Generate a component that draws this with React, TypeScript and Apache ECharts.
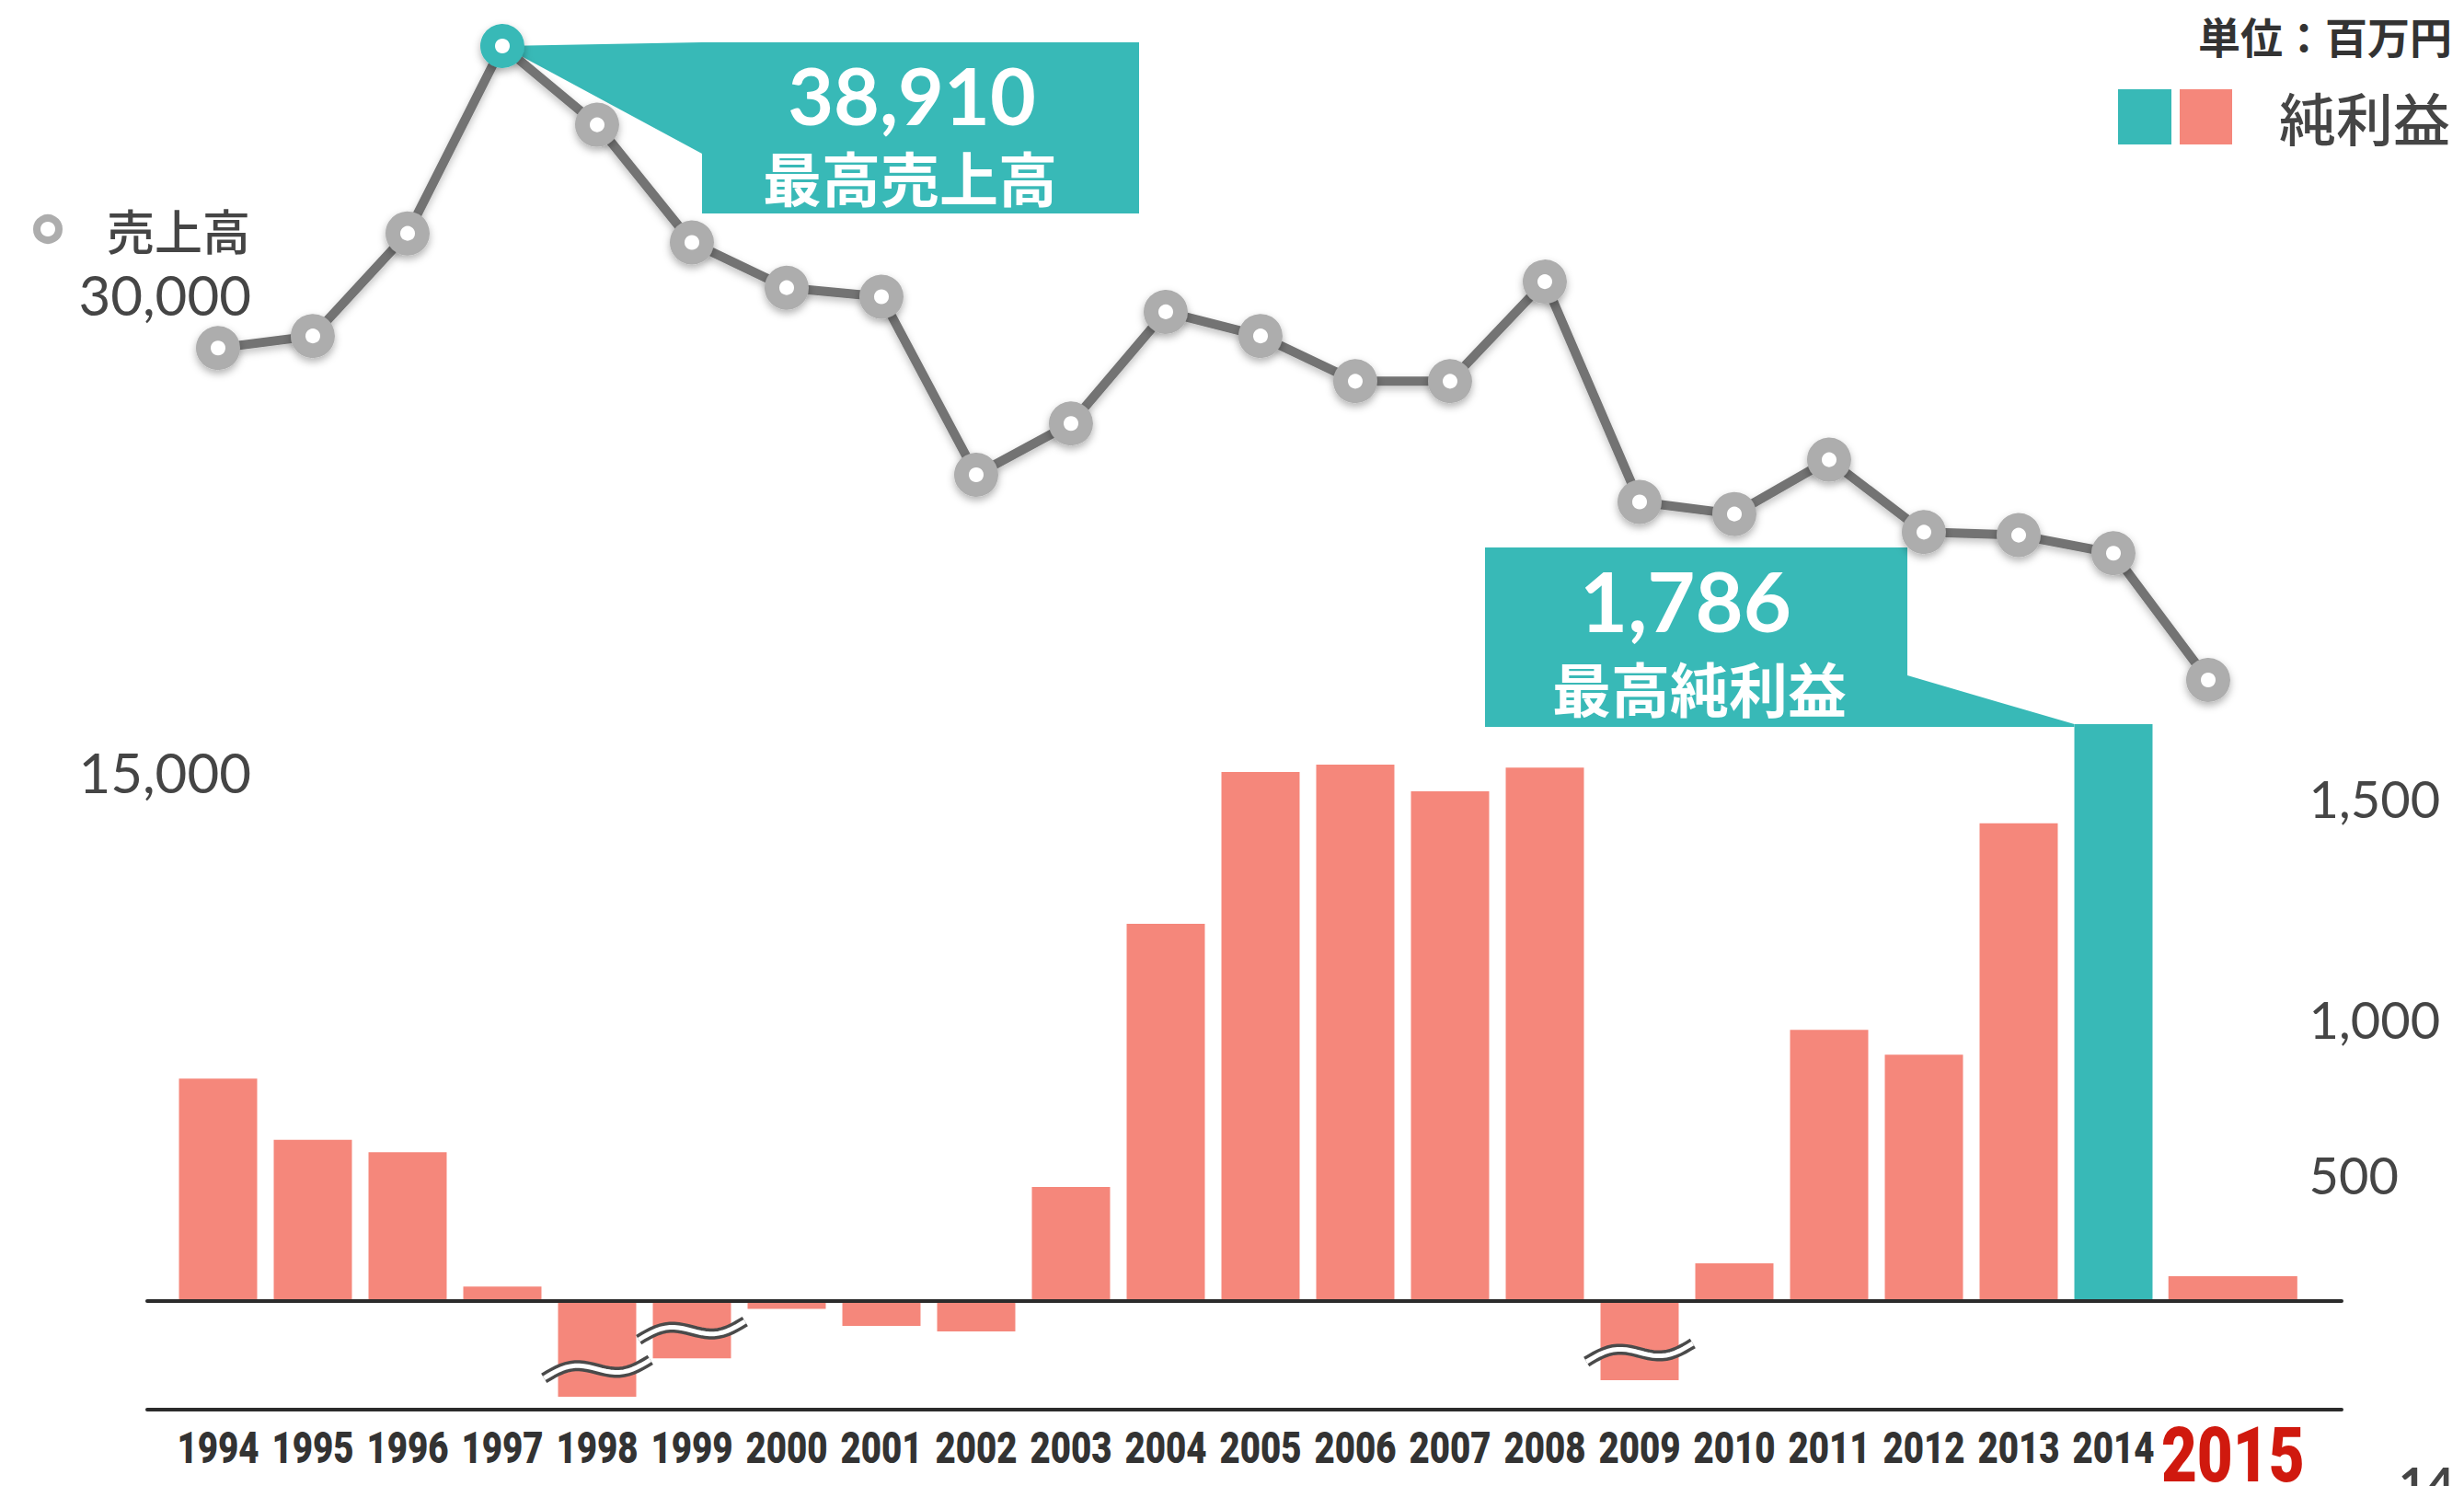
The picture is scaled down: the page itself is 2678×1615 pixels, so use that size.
import React, { useEffect, useRef } from 'react';
import * as echarts from 'echarts';

const years = ['1994', '1995', '1996', '1997', '1998', '1999', '2000', '2001', '2002', '2003', '2004', '2005', '2006', '2007', '2008', '2009', '2010', '2011', '2012', '2013', '2014', '2015'];
const sales = [28900, 29300, 32700, 38910, 36300, 32400, 30900, 30600, 24700, 26400, 30100, 29300, 27800, 27800, 31100, 23800, 23400, 25200, 22800, 22700, 22100, 17900];
const netProfit = [689, 499, 461, 45, -296, -177, -24, -77, -94, 353, 1168, 1638, 1661, 1578, 1652, -245, 117, 840, 763, 1479, 1786, 77];
const brokenYears = ['1998', '1999', '2009'];
const salesTicks = [15000, 30000];
const profitTicks = [500, 1000, 1500];
const salesLabel = '売上高';
const profitLabel = '純利益';
const unitLabel = '単位：百万円';
const salesCallout = '最高売上高';
const profitCallout = '最高純利益';
const pageNumber = '14';

const TEAL = '#38b9b7';
const PINK = '#f5877b';
const LINE = '#737373';
const MARK = '#adadad';
const TEXT = '#454545';
const AXISLINE = '#2b2b2b';
const NUM_FONT = 'Lato, "Noto Sans", sans-serif';
const JP_FONT = '"Noto Sans CJK JP", sans-serif';
const YEAR_FONT = 'Roboto, "Noto Sans", sans-serif';

const fmt = (v: number) => v.toLocaleString('en-US');

// vertical nudge of a label through rich-text padding (style only)
const nudge = (dy: number, base: any) => ({
  ...base,
  padding: dy < 0 ? [0, 0, -2 * dy, 0] : [2 * dy, 0, 0, 0],
});

export default function App() {
  const ref = useRef<HTMLDivElement>(null);
  useEffect(() => {
    const chart = echarts.init(ref.current!, null, { renderer: 'svg' });
    const salesMax = Math.max(...sales);
    const salesMaxIdx = sales.indexOf(salesMax);
    const profitMax = Math.max(...netProfit);
    const profitMaxIdx = netProfit.indexOf(profitMax);
    const lastIdx = years.length - 1;
    const barRatio = 0.825;
    const lastWidth = 1.36;
    const lastShift = 0.26;
    const axisLift = 57.5;

    const leftStyle = { fontSize: 60, color: TEXT, fontFamily: NUM_FONT, lineHeight: 60 };
    const rightStyle = { fontSize: 56, color: TEXT, fontFamily: NUM_FONT, lineHeight: 56, align: 'left' };

    const option: any = {
      animation: false,
      grid: [
        { left: 185.5, right: 226.5, top: 50, bottom: 289 },
        { left: 185.5, right: 226.5, top: 712, bottom: 25.5 },
        { left: 160, right: 133, top: 712, bottom: 25.5 },
      ],
      xAxis: [
        { gridIndex: 0, type: 'category', data: years, show: false },
        {
          gridIndex: 1, type: 'category', data: years, position: 'bottom',
          axisLine: { show: false }, axisTick: { show: false }, axisLabel: { show: false },
        },
        {
          gridIndex: 2, type: 'value', min: 0, max: 1, position: 'bottom', z: 10,
          axisLine: { onZero: true, lineStyle: { color: AXISLINE, width: 4 } },
          axisTick: { show: false }, axisLabel: { show: false }, splitLine: { show: false },
        },
        {
          gridIndex: 2, type: 'value', min: 0, max: 1, position: 'bottom', offset: -axisLift, z: 10,
          axisLine: { onZero: false, lineStyle: { color: AXISLINE, width: 4 } },
          axisTick: { show: false }, axisLabel: { show: false }, splitLine: { show: false },
        },
      ],
      yAxis: [
        {
          gridIndex: 0, type: 'value', min: 0, max: salesMax, interval: 15000, position: 'left', offset: -87.5,
          axisLine: { show: false }, axisTick: { show: false }, splitLine: { show: false },
          axisLabel: {
            margin: 0,
            formatter: (v: number) => {
              if (!salesTicks.includes(v)) return '';
              return v === salesTicks[1] ? `{hi|${fmt(v)}}` : `{lo|${fmt(v)}}`;
            },
            rich: { hi: nudge(-22, leftStyle), lo: nudge(5, leftStyle) },
          },
        },
        {
          gridIndex: 1, type: 'value', min: -500, max: 2000, interval: 500, position: 'right',
          axisLine: { show: false }, axisTick: { show: false }, splitLine: { show: false },
          axisLabel: {
            margin: 58, align: 'left',
            formatter: (v: number) => {
              if (!profitTicks.includes(v)) return '';
              const k = profitTicks.indexOf(v);
              return `{p${k}|${fmt(v)}}`;
            },
            rich: { p0: nudge(38, rightStyle), p1: nudge(44, rightStyle), p2: nudge(-20, rightStyle) },
          },
        },
        { gridIndex: 2, type: 'value', min: -500, max: 2000, show: false },
      ],
      series: [
        {
          type: 'custom', xAxisIndex: 0, yAxisIndex: 0, z: 2, clip: false,
          data: [[salesMaxIdx, salesMax]],
          renderItem: (params: any, api: any) => {
            const [px, py] = api.coord([api.value(0), api.value(1)]);
            return {
              type: 'group',
              children: [
                {
                  type: 'polygon',
                  shape: { points: [[px, py], [px + 217, py - 4], [px + 692, py - 4], [px + 692, py + 182], [px + 217, py + 182], [px + 217, py + 117]] },
                  style: { fill: TEAL },
                },
                {
                  type: 'text', x: px + 445, y: py + 52,
                  style: { text: fmt(api.value(1)), fill: '#ffffff', fontSize: 86, lineHeight: 70, fontFamily: NUM_FONT, fontWeight: 'bold', align: 'center', verticalAlign: 'middle' },
                },
                {
                  type: 'text', x: px + 443, y: py + 141,
                  style: { text: salesCallout, fill: '#ffffff', fontSize: 64, lineHeight: 64, fontFamily: JP_FONT, fontWeight: 'bold', align: 'center', verticalAlign: 'middle' },
                },
              ],
            };
          },
        },
        {
          type: 'custom', xAxisIndex: 1, yAxisIndex: 1, z: 3, clip: false,
          data: netProfit.map((v, i) => [i, v]),
          renderItem: (params: any, api: any) => {
            const i = api.value(0);
            const v = api.value(1);
            const band = api.size([1, 0])[0];
            const base = api.coord([i, 0]);
            const end = api.coord([i, v]);
            let w = band * barRatio;
            let cx = base[0];
            if (i === lastIdx) {
              w = band * lastWidth;
              cx += band * lastShift;
            }
            const y0 = Math.min(base[1], end[1]);
            const h = Math.abs(end[1] - base[1]);
            const children: any[] = [
              { type: 'rect', shape: { x: cx - w / 2, y: y0, width: w, height: h }, style: { fill: i === profitMaxIdx ? TEAL : PINK } },
            ];
            if (brokenYears.includes(years[i])) {
              const cy = end[1] - 30;
              const hw = w * 0.68;
              const pts: number[][] = [];
              for (let k = 0; k <= 24; k++) {
                const t = -1 + (2 * k) / 24;
                pts.push([cx + t * hw, cy - 10 * t + 8 * Math.sin(Math.PI * t)]);
              }
              children.push({ type: 'polyline', shape: { points: pts }, style: { stroke: '#4a4a4a', lineWidth: 12, fill: 'none', lineCap: 'butt' } });
              children.push({ type: 'polyline', shape: { points: pts }, style: { stroke: '#ffffff', lineWidth: 5, fill: 'none', lineCap: 'butt' } });
            }
            return { type: 'group', children };
          },
        },
        {
          // category (year) labels along the x axis
          type: 'custom', xAxisIndex: 1, yAxisIndex: 1, z: 6, clip: false, silent: true,
          data: years.map((y, i) => [i, 0]),
          renderItem: (params: any, api: any) => {
            const i = api.value(0);
            const band = api.size([1, 0])[0];
            let cx = api.coord([i, 0])[0];
            const cs = params.coordSys;
            const lineY = cs.y + cs.height - axisLift;
            const isLast = i === lastIdx;
            if (isLast) cx += band * lastShift;
            return {
              type: 'text',
              x: cx,
              y: lineY + (isLast ? 49 : 42),
              scaleX: 0.8,
              style: {
                text: years[i],
                x: 0, y: 0,
                fill: isLast ? '#d0190e' : '#333333',
                fontSize: isLast ? 84 : 48,
                lineHeight: isLast ? 62 : 40,
                fontWeight: 900,
                fontFamily: YEAR_FONT,
                align: 'center',
                verticalAlign: 'middle',
              },
            };
          },
        },
        {
          type: 'custom', xAxisIndex: 1, yAxisIndex: 1, z: 4, clip: false,
          data: [[profitMaxIdx, profitMax]],
          renderItem: (params: any, api: any) => {
            const [cx, top] = api.coord([api.value(0), api.value(1)]);
            const band = api.size([1, 0])[0];
            const bl = cx - (band * barRatio) / 2;
            return {
              type: 'group',
              children: [
                {
                  type: 'polygon',
                  shape: { points: [[cx - 683, top - 192], [cx - 224, top - 192], [cx - 224, top - 53], [bl, top], [bl, top + 3], [cx - 683, top + 3]] },
                  style: { fill: TEAL },
                },
                {
                  type: 'text', x: cx - 465, y: top - 135,
                  style: { text: fmt(api.value(1)), fill: '#ffffff', fontSize: 90, lineHeight: 72, fontFamily: NUM_FONT, fontWeight: 'bold', align: 'center', verticalAlign: 'middle' },
                },
                {
                  type: 'text', x: cx - 450, y: top - 41,
                  style: { text: profitCallout, fill: '#ffffff', fontSize: 64, lineHeight: 64, fontFamily: JP_FONT, fontWeight: 'bold', align: 'center', verticalAlign: 'middle' },
                },
              ],
            };
          },
        },
        {
          type: 'line', xAxisIndex: 0, yAxisIndex: 0, z: 5,
          data: sales.map((v, i) => (i === salesMaxIdx ? { value: v, itemStyle: { borderColor: TEAL } } : v)),
          symbol: 'circle', symbolSize: 32, showAllSymbol: true,
          lineStyle: { color: LINE, width: 10, shadowBlur: 8, shadowColor: 'rgba(0,0,0,0.25)', shadowOffsetY: 4 },
          itemStyle: { color: '#ffffff', borderColor: MARK, borderWidth: 16, shadowBlur: 8, shadowColor: 'rgba(0,0,0,0.3)', shadowOffsetY: 4 },
          emphasis: { disabled: true },
        },
      ],
      graphic: [
        { type: 'text', x: 2665, y: 38, style: { text: unitLabel, fill: '#333333', fontSize: 46, fontWeight: 'bold', fontFamily: JP_FONT, align: 'right', verticalAlign: 'middle' } },
        { type: 'rect', x: 2302, y: 97, shape: { width: 58, height: 60 }, style: { fill: TEAL } },
        { type: 'rect', x: 2369, y: 97, shape: { width: 57, height: 60 }, style: { fill: PINK } },
        { type: 'text', x: 2477, y: 127, style: { text: profitLabel, fill: TEXT, fontSize: 62, fontWeight: 500, fontFamily: JP_FONT, align: 'left', verticalAlign: 'middle' } },
        { type: 'circle', shape: { cx: 52, cy: 249, r: 12 }, style: { fill: '#ffffff', stroke: MARK, lineWidth: 8 } },
        { type: 'text', x: 116, y: 249, style: { text: salesLabel, fill: TEXT, fontSize: 52, fontWeight: 500, fontFamily: JP_FONT, align: 'left', verticalAlign: 'middle' } },
        { type: 'text', x: 2607, y: 1586, style: { text: pageNumber, fill: TEXT, fontSize: 52, fontWeight: 'bold', fontFamily: NUM_FONT, align: 'left', verticalAlign: 'top' } },
      ],
    };
    chart.setOption(option);
    return () => chart.dispose();
  }, []);
  return <div ref={ref} style={{ position: 'absolute', left: 0, top: 0, width: 2678, height: 1615 }} />;
}
